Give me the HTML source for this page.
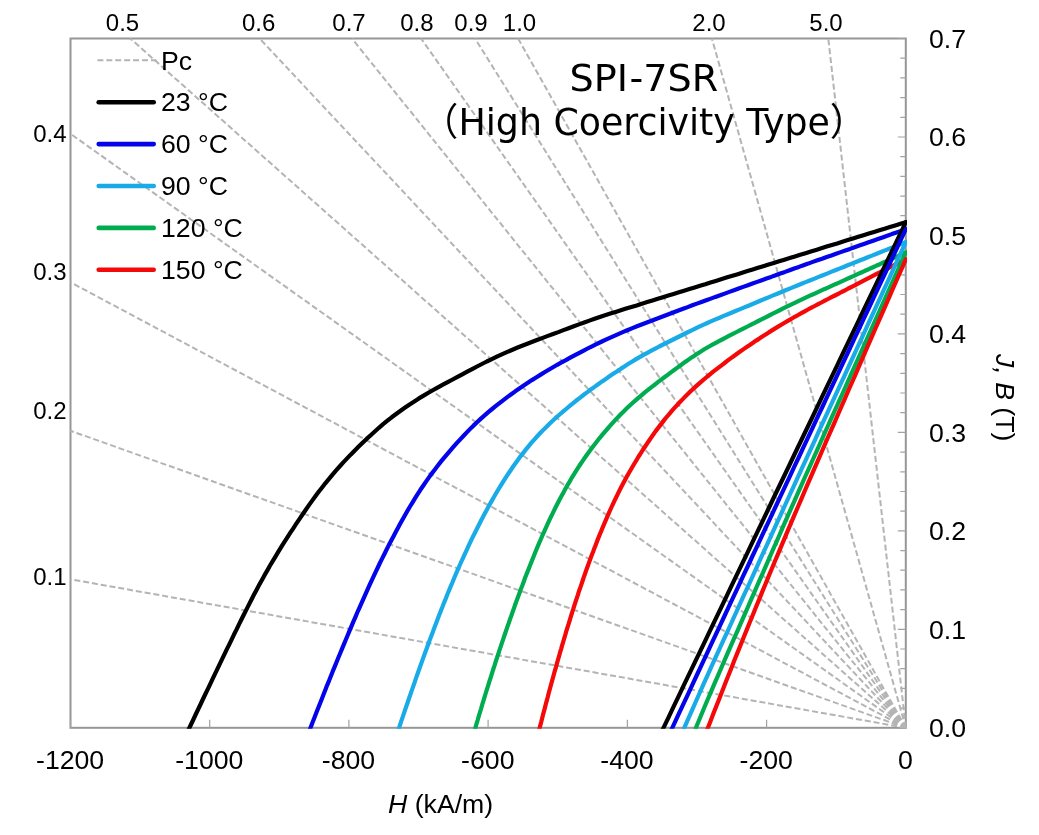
<!DOCTYPE html>
<html lang="en"><head><meta charset="utf-8"><title>SPI-7SR demagnetization curves</title>
<style>html,body{margin:0;padding:0;background:#fff}body{width:1039px;height:835px;overflow:hidden}svg{display:block}text{font-family:"Liberation Sans",sans-serif;fill:#000}.t{font-size:26.67px}.s{font-size:24px}.ttl{font-family:"DejaVu Sans","Liberation Sans","Noto Sans CJK JP",sans-serif;font-size:38px}</style></head><body>
<svg width="1039" height="835" viewBox="0 0 1039 835">
<rect width="1039" height="835" fill="#fff"/>
<defs><clipPath id="cp"><rect x="69.3" y="37.3" width="837.6999999999999" height="691.5"/></clipPath></defs>
<rect x="70.5" y="38.5" width="835.3" height="689.3" fill="none" stroke="#969696" stroke-width="2"/>
<path d="M905.8,727.8h-8 M905.8,708.1h-5.5 M905.8,688.4h-5.5 M905.8,668.7h-5.5 M905.8,649.0h-5.5 M905.8,629.3h-8 M905.8,609.6h-5.5 M905.8,589.9h-5.5 M905.8,570.2h-5.5 M905.8,550.6h-5.5 M905.8,530.9h-8 M905.8,511.2h-5.5 M905.8,491.5h-5.5 M905.8,471.8h-5.5 M905.8,452.1h-5.5 M905.8,432.4h-8 M905.8,412.7h-5.5 M905.8,393.0h-5.5 M905.8,373.3h-5.5 M905.8,353.6h-5.5 M905.8,333.9h-8 M905.8,314.2h-5.5 M905.8,294.5h-5.5 M905.8,274.8h-5.5 M905.8,255.1h-5.5 M905.8,235.4h-8 M905.8,215.7h-5.5 M905.8,196.1h-5.5 M905.8,176.4h-5.5 M905.8,156.7h-5.5 M905.8,137.0h-8 M905.8,117.3h-5.5 M905.8,97.6h-5.5 M905.8,77.9h-5.5 M905.8,58.2h-5.5 M905.8,38.5h-8 M70.5,727.8v-8 M209.7,727.8v-8 M348.9,727.8v-8 M488.1,727.8v-8 M627.4,727.8v-8 M766.6,727.8v-8 M905.8,727.8v-8" stroke="#a2a2a2" stroke-width="1.2" fill="none"/>
<g clip-path="url(#cp)" fill="none">
<path d="M905.8,727.8L70.5,579.3 M905.8,727.8L70.5,430.8 M905.8,727.8L70.5,282.3 M905.8,727.8L70.5,133.8 M905.8,727.8L130.3,38.5 M905.8,727.8L259.6,38.5 M905.8,727.8L351.9,38.5 M905.8,727.8L421.1,38.5 M905.8,727.8L475.0,38.5 M905.8,727.8L518.1,38.5 M905.8,727.8L711.9,38.5 M905.8,727.8L828.3,38.5" stroke="#b4b4b4" stroke-width="2" stroke-dasharray="6 2.92"/>
<path d="M186.5,734.0 L188.9,729.0 L191.2,724.0 L193.6,719.0 L195.9,714.0 L198.3,709.0 L200.7,704.0 L203.0,699.0 L205.4,694.0 L207.8,689.1 L210.2,684.1 L212.5,679.1 L214.9,674.1 L217.3,669.1 L219.7,664.2 L222.1,659.2 L224.5,654.2 L226.9,649.2 L229.3,644.3 L231.7,639.3 L234.1,634.3 L236.6,629.4 L239.0,624.4 L241.4,619.5 L243.9,614.5 L246.4,609.6 L248.9,604.6 L251.4,599.7 L253.9,594.8 L256.5,589.9 L259.1,585.1 L261.8,580.2 L264.4,575.4 L267.2,570.6 L269.9,565.8 L272.7,561.1 L275.6,556.3 L278.4,551.6 L281.3,546.9 L284.3,542.2 L287.2,537.6 L290.2,532.9 L293.3,528.3 L296.3,523.7 L299.4,519.1 L302.5,514.5 L305.6,510.0 L308.8,505.4 L312.0,500.9 L315.2,496.5 L318.5,492.1 L321.9,487.7 L325.3,483.3 L328.8,479.1 L332.3,474.8 L335.9,470.6 L339.6,466.5 L343.3,462.4 L347.1,458.4 L350.9,454.4 L354.8,450.5 L358.7,446.6 L362.6,442.7 L366.6,438.9 L370.7,435.2 L374.8,431.5 L378.9,427.8 L383.1,424.2 L387.4,420.7 L391.7,417.3 L396.1,414.0 L400.6,410.7 L405.1,407.5 L409.6,404.4 L414.3,401.4 L418.9,398.4 L423.6,395.6 L428.4,392.8 L433.2,390.0 L438.0,387.3 L442.9,384.7 L447.7,382.1 L452.6,379.5 L457.5,376.9 L462.3,374.3 L467.2,371.7 L472.1,369.1 L477.0,366.5 L481.9,364.0 L486.8,361.5 L491.8,359.1 L496.8,356.7 L501.8,354.4 L506.8,352.1 L511.9,350.0 L517.0,347.8 L522.1,345.8 L527.3,343.8 L532.4,341.8 L537.6,339.8 L542.7,337.9 L547.9,335.9 L553.1,334.0 L558.3,332.1 L563.4,330.1 L568.6,328.2 L573.8,326.3 L579.0,324.4 L584.2,322.5 L589.4,320.6 L594.6,318.8 L599.8,317.0 L605.0,315.3 L610.3,313.6 L615.6,311.9 L620.8,310.3 L626.1,308.6 L631.4,307.0 L636.7,305.4 L641.9,303.7 L647.2,302.1 L652.5,300.5 L657.8,298.8 L663.0,297.2 L668.3,295.6 L673.6,294.0 L678.9,292.3 L684.1,290.7 L689.4,289.1 L694.7,287.4 L700.0,285.8 L705.3,284.2 L710.5,282.5 L715.8,280.9 L721.1,279.3 L726.4,277.6 L731.6,276.0 L736.9,274.4 L742.2,272.7 L747.5,271.1 L752.7,269.5 L758.0,267.8 L763.3,266.2 L768.6,264.6 L773.8,263.0 L779.1,261.3 L784.4,259.7 L789.7,258.1 L794.9,256.4 L800.2,254.8 L805.5,253.2 L810.8,251.5 L816.1,249.9 L821.3,248.3 L826.6,246.6 L831.9,245.0 L837.2,243.4 L842.4,241.7 L847.7,240.1 L853.0,238.5 L858.3,236.8 L863.5,235.2 L868.8,233.6 L874.1,232.0 L879.4,230.3 L884.6,228.7 L889.9,227.1 L895.2,225.4 L900.5,223.8 L905.8,222.2" stroke="#000000" stroke-width="4.2" stroke-linejoin="round" stroke-linecap="round"/>
<path d="M307.5,735.6 L309.3,731.0 L311.0,726.4 L312.8,721.8 L314.6,717.2 L316.4,712.6 L318.2,708.0 L320.0,703.5 L321.8,698.9 L323.6,694.3 L325.4,689.7 L327.2,685.1 L329.1,680.6 L330.9,676.0 L332.7,671.4 L334.6,666.9 L336.5,662.3 L338.3,657.7 L340.2,653.2 L342.1,648.6 L344.0,644.1 L345.9,639.5 L347.8,635.0 L349.7,630.4 L351.6,625.9 L353.5,621.4 L355.5,616.8 L357.4,612.3 L359.4,607.8 L361.4,603.3 L363.4,598.8 L365.4,594.3 L367.4,589.8 L369.4,585.3 L371.5,580.8 L373.6,576.4 L375.7,571.9 L377.8,567.5 L379.9,563.0 L382.1,558.6 L384.3,554.2 L386.5,549.8 L388.7,545.4 L391.0,541.0 L393.3,536.7 L395.6,532.3 L397.9,528.0 L400.3,523.6 L402.7,519.3 L405.1,515.0 L407.5,510.8 L410.0,506.5 L412.6,502.3 L415.1,498.1 L417.8,493.9 L420.4,489.8 L423.2,485.7 L426.0,481.6 L428.8,477.6 L431.7,473.6 L434.7,469.7 L437.7,465.8 L440.7,461.9 L443.8,458.1 L447.0,454.3 L450.2,450.6 L453.4,446.9 L456.7,443.2 L460.0,439.6 L463.4,436.0 L466.8,432.4 L470.2,428.9 L473.7,425.4 L477.3,422.0 L480.9,418.6 L484.6,415.4 L488.3,412.1 L492.1,409.0 L495.9,405.9 L499.8,402.8 L503.7,399.8 L507.6,396.9 L511.6,394.0 L515.6,391.1 L519.7,388.3 L523.7,385.5 L527.8,382.8 L531.9,380.1 L536.1,377.5 L540.3,374.9 L544.5,372.3 L548.7,369.8 L553.0,367.3 L557.2,364.8 L561.5,362.4 L565.9,360.1 L570.2,357.7 L574.5,355.4 L578.9,353.1 L583.2,350.8 L587.6,348.5 L592.0,346.3 L596.4,344.1 L600.9,342.0 L605.3,339.9 L609.8,337.8 L614.3,335.8 L618.8,333.8 L623.3,331.9 L627.9,330.0 L632.4,328.1 L637.0,326.3 L641.6,324.5 L646.2,322.7 L650.8,321.0 L655.4,319.2 L660.0,317.5 L664.6,315.7 L669.2,314.0 L673.8,312.3 L678.4,310.5 L683.1,308.8 L687.7,307.1 L692.3,305.3 L696.9,303.6 L701.5,302.0 L706.2,300.3 L710.8,298.6 L715.4,296.9 L720.1,295.3 L724.7,293.6 L729.3,291.9 L734.0,290.2 L738.6,288.6 L743.2,286.9 L747.9,285.2 L752.5,283.6 L757.2,281.9 L761.8,280.2 L766.4,278.5 L771.1,276.9 L775.7,275.2 L780.3,273.5 L785.0,271.9 L789.6,270.2 L794.2,268.5 L798.9,266.9 L803.5,265.2 L808.2,263.6 L812.8,261.9 L817.4,260.3 L822.1,258.7 L826.7,257.0 L831.4,255.4 L836.0,253.8 L840.7,252.1 L845.3,250.5 L850.0,248.9 L854.6,247.2 L859.3,245.6 L863.9,244.0 L868.6,242.3 L873.2,240.7 L877.9,239.0 L882.5,237.4 L887.2,235.8 L891.8,234.1 L896.5,232.5 L901.1,230.9 L905.8,229.2" stroke="#0404ea" stroke-width="4.2" stroke-linejoin="round" stroke-linecap="round"/>
<path d="M396.0,737.1 L397.4,732.9 L398.8,728.6 L400.2,724.4 L401.6,720.2 L403.1,715.9 L404.5,711.7 L405.9,707.5 L407.4,703.2 L408.8,699.0 L410.3,694.8 L411.7,690.6 L413.2,686.4 L414.7,682.2 L416.1,677.9 L417.6,673.7 L419.1,669.5 L420.6,665.3 L422.1,661.1 L423.6,656.9 L425.1,652.7 L426.7,648.5 L428.2,644.3 L429.7,640.1 L431.3,635.9 L432.9,631.8 L434.4,627.6 L436.0,623.4 L437.6,619.2 L439.2,615.1 L440.8,610.9 L442.5,606.8 L444.1,602.6 L445.8,598.5 L447.4,594.3 L449.1,590.2 L450.8,586.1 L452.6,582.0 L454.3,577.8 L456.0,573.7 L457.8,569.6 L459.6,565.5 L461.4,561.5 L463.3,557.4 L465.1,553.3 L467.0,549.3 L468.9,545.2 L470.8,541.2 L472.7,537.2 L474.7,533.2 L476.7,529.2 L478.7,525.2 L480.7,521.2 L482.8,517.3 L484.9,513.3 L487.0,509.4 L489.1,505.5 L491.3,501.6 L493.5,497.7 L495.8,493.8 L498.0,490.0 L500.4,486.2 L502.7,482.4 L505.1,478.6 L507.5,474.9 L510.0,471.2 L512.5,467.5 L515.1,463.8 L517.7,460.2 L520.3,456.6 L523.1,453.1 L525.8,449.6 L528.7,446.1 L531.5,442.7 L534.5,439.3 L537.5,436.0 L540.5,432.8 L543.6,429.6 L546.8,426.4 L550.0,423.3 L553.2,420.3 L556.5,417.3 L559.9,414.3 L563.3,411.4 L566.7,408.5 L570.1,405.6 L573.5,402.8 L577.0,400.0 L580.5,397.3 L584.1,394.5 L587.7,391.9 L591.2,389.2 L594.9,386.6 L598.5,384.0 L602.1,381.4 L605.8,378.9 L609.5,376.3 L613.2,373.8 L616.9,371.4 L620.6,368.9 L624.4,366.5 L628.1,364.1 L631.9,361.7 L635.7,359.4 L639.6,357.1 L643.5,354.9 L647.4,352.8 L651.3,350.7 L655.3,348.6 L659.2,346.5 L663.2,344.5 L667.2,342.5 L671.2,340.5 L675.2,338.5 L679.2,336.5 L683.2,334.5 L687.2,332.5 L691.2,330.6 L695.2,328.6 L699.2,326.7 L703.2,324.8 L707.3,323.0 L711.4,321.2 L715.5,319.4 L719.6,317.7 L723.7,315.9 L727.9,314.2 L732.0,312.5 L736.1,310.8 L740.2,309.1 L744.3,307.4 L748.5,305.7 L752.6,304.0 L756.7,302.3 L760.8,300.5 L765.0,298.8 L769.1,297.1 L773.2,295.4 L777.3,293.7 L781.5,292.0 L785.6,290.3 L789.7,288.6 L793.9,286.9 L798.0,285.2 L802.1,283.5 L806.3,281.9 L810.4,280.2 L814.6,278.6 L818.7,276.9 L822.8,275.2 L827.0,273.6 L831.1,271.9 L835.3,270.3 L839.4,268.6 L843.6,267.0 L847.7,265.3 L851.9,263.6 L856.0,262.0 L860.2,260.3 L864.3,258.7 L868.4,257.0 L872.6,255.4 L876.7,253.7 L880.9,252.0 L885.0,250.4 L889.2,248.7 L893.3,247.1 L897.5,245.4 L901.6,243.8 L905.8,242.1" stroke="#18abe8" stroke-width="4.2" stroke-linejoin="round" stroke-linecap="round"/>
<path d="M473.0,735.9 L474.1,732.0 L475.3,728.1 L476.4,724.2 L477.6,720.3 L478.7,716.4 L479.9,712.5 L481.1,708.6 L482.2,704.7 L483.4,700.8 L484.6,696.9 L485.8,693.0 L487.0,689.1 L488.2,685.3 L489.4,681.4 L490.7,677.5 L491.9,673.6 L493.1,669.7 L494.4,665.9 L495.6,662.0 L496.9,658.1 L498.2,654.3 L499.4,650.4 L500.7,646.6 L502.0,642.7 L503.3,638.9 L504.6,635.0 L505.9,631.2 L507.2,627.3 L508.6,623.5 L509.9,619.6 L511.3,615.8 L512.6,612.0 L514.0,608.1 L515.3,604.3 L516.7,600.5 L518.1,596.7 L519.5,592.9 L520.9,589.0 L522.4,585.2 L523.8,581.4 L525.2,577.6 L526.7,573.8 L528.2,570.1 L529.7,566.3 L531.2,562.5 L532.7,558.7 L534.2,554.9 L535.7,551.2 L537.3,547.4 L538.9,543.7 L540.5,540.0 L542.1,536.2 L543.8,532.5 L545.4,528.8 L547.1,525.1 L548.8,521.4 L550.5,517.7 L552.3,514.1 L554.1,510.4 L555.9,506.8 L557.7,503.2 L559.6,499.6 L561.5,496.0 L563.5,492.4 L565.4,488.8 L567.4,485.3 L569.5,481.8 L571.5,478.3 L573.6,474.8 L575.8,471.3 L578.0,467.9 L580.2,464.5 L582.5,461.1 L584.8,457.8 L587.1,454.5 L589.5,451.2 L591.9,447.9 L594.4,444.7 L596.9,441.5 L599.4,438.3 L602.0,435.2 L604.6,432.1 L607.3,429.0 L610.0,425.9 L612.7,422.9 L615.4,419.9 L618.2,417.0 L621.0,414.0 L623.9,411.2 L626.8,408.3 L629.8,405.5 L632.8,402.8 L635.8,400.1 L638.9,397.4 L642.0,394.8 L645.1,392.2 L648.3,389.7 L651.5,387.1 L654.7,384.7 L657.9,382.2 L661.2,379.7 L664.4,377.3 L667.7,374.8 L670.9,372.4 L674.2,370.0 L677.4,367.6 L680.7,365.2 L684.0,362.8 L687.3,360.5 L690.7,358.1 L694.1,355.9 L697.5,353.6 L700.9,351.5 L704.3,349.3 L707.8,347.3 L711.4,345.2 L714.9,343.3 L718.5,341.3 L722.1,339.5 L725.7,337.6 L729.3,335.7 L732.9,333.9 L736.6,332.0 L740.2,330.2 L743.8,328.4 L747.5,326.5 L751.1,324.7 L754.7,322.8 L758.3,321.0 L762.0,319.2 L765.6,317.3 L769.2,315.5 L772.8,313.7 L776.5,311.8 L780.1,310.0 L783.7,308.2 L787.4,306.4 L791.0,304.6 L794.7,302.8 L798.3,301.1 L802.0,299.3 L805.7,297.6 L809.4,295.9 L813.1,294.3 L816.8,292.6 L820.5,290.9 L824.2,289.2 L827.9,287.6 L831.6,285.9 L835.3,284.2 L839.1,282.6 L842.8,280.9 L846.5,279.2 L850.2,277.5 L853.9,275.9 L857.6,274.2 L861.3,272.5 L865.0,270.8 L868.7,269.2 L872.4,267.5 L876.1,265.8 L879.8,264.2 L883.5,262.5 L887.2,260.8 L890.9,259.1 L894.6,257.5 L898.3,255.8 L902.0,254.1 L905.8,252.5" stroke="#00ac50" stroke-width="4.2" stroke-linejoin="round" stroke-linecap="round"/>
<path d="M536.5,740.5 L537.4,736.8 L538.3,733.1 L539.3,729.4 L540.2,725.8 L541.2,722.1 L542.1,718.4 L543.0,714.8 L544.0,711.1 L545.0,707.4 L545.9,703.8 L546.9,700.1 L547.9,696.5 L548.8,692.8 L549.8,689.2 L550.8,685.5 L551.8,681.9 L552.8,678.2 L553.8,674.6 L554.8,670.9 L555.9,667.3 L556.9,663.6 L557.9,660.0 L559.0,656.3 L560.0,652.7 L561.1,649.1 L562.1,645.4 L563.2,641.8 L564.3,638.2 L565.4,634.5 L566.4,630.9 L567.5,627.3 L568.7,623.7 L569.8,620.1 L570.9,616.4 L572.0,612.8 L573.2,609.2 L574.3,605.6 L575.5,602.0 L576.7,598.4 L577.9,594.8 L579.0,591.2 L580.3,587.6 L581.5,584.1 L582.7,580.5 L583.9,576.9 L585.2,573.3 L586.4,569.8 L587.7,566.2 L589.0,562.6 L590.3,559.1 L591.6,555.5 L593.0,552.0 L594.3,548.5 L595.7,544.9 L597.0,541.4 L598.4,537.9 L599.8,534.4 L601.3,530.9 L602.7,527.4 L604.2,523.9 L605.7,520.4 L607.2,516.9 L608.7,513.4 L610.2,510.0 L611.8,506.5 L613.4,503.1 L615.0,499.7 L616.7,496.3 L618.3,492.9 L620.0,489.5 L621.8,486.1 L623.5,482.8 L625.3,479.4 L627.1,476.1 L629.0,472.8 L630.9,469.5 L632.8,466.3 L634.7,463.0 L636.7,459.8 L638.6,456.5 L640.7,453.3 L642.7,450.2 L644.8,447.0 L646.9,443.8 L649.0,440.7 L651.1,437.6 L653.3,434.5 L655.5,431.4 L657.8,428.4 L660.1,425.4 L662.4,422.4 L664.7,419.4 L667.1,416.5 L669.6,413.6 L672.0,410.7 L674.5,407.9 L677.1,405.1 L679.7,402.3 L682.3,399.6 L684.9,396.9 L687.6,394.2 L690.3,391.6 L693.1,389.0 L695.9,386.4 L698.7,383.9 L701.6,381.4 L704.4,379.0 L707.3,376.5 L710.3,374.1 L713.2,371.7 L716.2,369.4 L719.2,367.1 L722.2,364.8 L725.2,362.5 L728.2,360.2 L731.3,357.9 L734.3,355.7 L737.4,353.5 L740.5,351.3 L743.6,349.1 L746.7,347.0 L749.8,344.9 L753.0,342.7 L756.1,340.6 L759.3,338.6 L762.4,336.5 L765.6,334.5 L768.8,332.4 L772.0,330.4 L775.2,328.4 L778.5,326.4 L781.7,324.5 L785.0,322.5 L788.2,320.6 L791.5,318.7 L794.8,316.8 L798.1,315.0 L801.4,313.1 L804.7,311.3 L808.0,309.5 L811.4,307.7 L814.7,306.0 L818.1,304.2 L821.4,302.5 L824.8,300.7 L828.1,299.0 L831.5,297.2 L834.9,295.5 L838.2,293.8 L841.6,292.0 L845.0,290.3 L848.3,288.5 L851.7,286.8 L855.1,285.1 L858.4,283.3 L861.8,281.6 L865.1,279.9 L868.5,278.1 L871.9,276.4 L875.2,274.7 L878.6,273.0 L882.0,271.2 L885.4,269.5 L888.8,267.8 L892.1,266.2 L895.5,264.5 L898.9,262.8 L902.3,261.2 L905.8,259.5" stroke="#f40808" stroke-width="4.2" stroke-linejoin="round" stroke-linecap="round"/>
<path d="M657.8,739.8 L663.0,728.8 L668.3,717.8 L673.6,706.7 L678.9,695.7 L684.1,684.7 L689.4,673.7 L694.7,662.7 L700.0,651.7 L705.3,640.7 L710.5,629.7 L715.8,618.7 L721.1,607.6 L726.4,596.6 L731.6,585.6 L736.9,574.6 L742.2,563.6 L747.5,552.6 L752.7,541.6 L758.0,530.6 L763.3,519.6 L768.6,508.5 L773.8,497.5 L779.1,486.5 L784.4,475.5 L789.7,464.5 L794.9,453.5 L800.2,442.5 L805.5,431.5 L810.8,420.5 L816.1,409.4 L821.3,398.4 L826.6,387.4 L831.9,376.4 L837.2,365.4 L842.4,354.4 L847.7,343.4 L853.0,332.4 L858.3,321.4 L863.5,310.3 L868.8,299.3 L874.1,288.3 L879.4,277.3 L884.6,266.3 L889.9,255.3 L895.2,244.3 L900.5,233.3 L905.8,222.2" stroke="#000000" stroke-width="4.2" stroke-linejoin="round" stroke-linecap="round"/>
<path d="M669.2,734.5 L673.8,724.6 L678.4,714.7 L683.1,704.7 L687.7,694.8 L692.3,684.9 L696.9,675.0 L701.5,665.1 L706.2,655.1 L710.8,645.2 L715.4,635.3 L720.1,625.4 L724.7,615.5 L729.3,605.6 L734.0,595.7 L738.6,585.8 L743.2,575.9 L747.9,566.0 L752.5,556.0 L757.2,546.1 L761.8,536.2 L766.4,526.3 L771.1,516.4 L775.7,506.5 L780.3,496.6 L785.0,486.7 L789.6,476.8 L794.2,466.9 L798.9,457.0 L803.5,447.1 L808.2,437.2 L812.8,427.3 L817.4,417.4 L822.1,407.5 L826.7,397.6 L831.4,387.7 L836.0,377.8 L840.7,367.9 L845.3,358.0 L850.0,348.1 L854.6,338.2 L859.3,328.3 L863.9,318.4 L868.6,308.5 L873.2,298.6 L877.9,288.7 L882.5,278.8 L887.2,268.9 L891.8,259.0 L896.5,249.1 L901.1,239.2 L905.8,229.2" stroke="#0404ea" stroke-width="4.2" stroke-linejoin="round" stroke-linecap="round"/>
<path d="M679.2,739.4 L683.2,730.3 L687.2,721.2 L691.2,712.1 L695.2,703.0 L699.2,694.0 L703.2,684.9 L707.3,675.8 L711.4,666.7 L715.5,657.7 L719.6,648.6 L723.7,639.6 L727.9,630.6 L732.0,621.5 L736.1,612.5 L740.2,603.4 L744.3,594.4 L748.5,585.4 L752.6,576.3 L756.7,567.3 L760.8,558.2 L765.0,549.2 L769.1,540.2 L773.2,531.1 L777.3,522.1 L781.5,513.0 L785.6,504.0 L789.7,495.0 L793.9,485.9 L798.0,476.9 L802.1,467.9 L806.3,458.8 L810.4,449.8 L814.6,440.8 L818.7,431.7 L822.8,422.7 L827.0,413.7 L831.1,404.7 L835.3,395.6 L839.4,386.6 L843.6,377.6 L847.7,368.6 L851.9,359.5 L856.0,350.5 L860.2,341.5 L864.3,332.5 L868.4,323.4 L872.6,314.4 L876.7,305.4 L880.9,296.3 L885.0,287.3 L889.2,278.3 L893.3,269.3 L897.5,260.2 L901.6,251.2 L905.8,242.1" stroke="#18abe8" stroke-width="4.2" stroke-linejoin="round" stroke-linecap="round"/>
<path d="M694.1,732.3 L697.5,724.0 L700.9,715.7 L704.3,707.5 L707.8,699.2 L711.4,690.9 L714.9,682.6 L718.5,674.3 L722.1,666.0 L725.7,657.7 L729.3,649.4 L732.9,641.2 L736.6,632.9 L740.2,624.6 L743.8,616.3 L747.5,608.0 L751.1,599.7 L754.7,591.5 L758.3,583.2 L762.0,574.9 L765.6,566.6 L769.2,558.3 L772.8,550.0 L776.5,541.8 L780.1,533.5 L783.7,525.2 L787.4,516.9 L791.0,508.6 L794.7,500.4 L798.3,492.1 L802.0,483.8 L805.7,475.5 L809.4,467.3 L813.1,459.0 L816.8,450.8 L820.5,442.5 L824.2,434.2 L827.9,426.0 L831.6,417.7 L835.3,409.5 L839.1,401.2 L842.8,393.0 L846.5,384.7 L850.2,376.4 L853.9,368.2 L857.6,359.9 L861.3,351.7 L865.0,343.4 L868.7,335.1 L872.4,326.9 L876.1,318.6 L879.8,310.4 L883.5,302.1 L887.2,293.8 L890.9,285.6 L894.6,277.3 L898.3,269.1 L902.0,260.8 L905.8,252.5" stroke="#00ac50" stroke-width="4.2" stroke-linejoin="round" stroke-linecap="round"/>
<path d="M704.4,736.9 L707.3,729.3 L710.3,721.7 L713.2,714.1 L716.2,706.5 L719.2,698.9 L722.2,691.2 L725.2,683.6 L728.2,675.9 L731.3,668.2 L734.3,660.6 L737.4,652.9 L740.5,645.2 L743.6,637.5 L746.7,629.9 L749.8,622.2 L753.0,614.5 L756.1,606.8 L759.3,599.1 L762.4,591.4 L765.6,583.7 L768.8,575.9 L772.0,568.2 L775.2,560.5 L778.5,552.8 L781.7,545.1 L785.0,537.4 L788.2,529.6 L791.5,521.9 L794.8,514.2 L798.1,506.5 L801.4,498.8 L804.7,491.0 L808.0,483.3 L811.4,475.6 L814.7,467.9 L818.1,460.2 L821.4,452.5 L824.8,444.7 L828.1,437.0 L831.5,429.3 L834.9,421.6 L838.2,413.9 L841.6,406.2 L845.0,398.4 L848.3,390.7 L851.7,383.0 L855.1,375.3 L858.4,367.6 L861.8,359.9 L865.1,352.1 L868.5,344.4 L871.9,336.7 L875.2,329.0 L878.6,321.3 L882.0,313.6 L885.4,305.9 L888.8,298.1 L892.1,290.4 L895.5,282.7 L898.9,275.0 L902.3,267.3 L905.8,259.5" stroke="#f40808" stroke-width="4.2" stroke-linejoin="round" stroke-linecap="round"/>
</g>
<path d="M97.4,60.3H156.4" stroke="#b4b4b4" stroke-width="2" stroke-dasharray="6 2.92" fill="none"/>
<text class="t" x="161.0" y="69.6">Pc</text>
<path d="M98.7,102.2H153.7" stroke="#000000" stroke-width="4.6" stroke-linecap="round" fill="none"/>
<text class="t" x="161.0" y="111.4">23 °C</text>
<path d="M98.7,144.1H153.7" stroke="#0404ea" stroke-width="4.6" stroke-linecap="round" fill="none"/>
<text class="t" x="161.0" y="153.2">60 °C</text>
<path d="M98.7,186.0H153.7" stroke="#18abe8" stroke-width="4.6" stroke-linecap="round" fill="none"/>
<text class="t" x="161.0" y="195.0">90 °C</text>
<path d="M98.7,227.9H153.7" stroke="#00ac50" stroke-width="4.6" stroke-linecap="round" fill="none"/>
<text class="t" x="161.0" y="236.8">120 °C</text>
<path d="M98.7,269.8H153.7" stroke="#f40808" stroke-width="4.6" stroke-linecap="round" fill="none"/>
<text class="t" x="161.0" y="278.6">150 °C</text>
<text class="ttl" text-anchor="middle" transform="translate(643.8,90.8) scale(1.004,1)">SPI<tspan dx="1.5">-7SR</tspan></text>
<text class="ttl" text-anchor="middle" transform="translate(644.1,135) scale(0.956,1)">（High Coercivity Type）</text>
<text class="t" x="929" y="737.2">0.0</text>
<text class="t" x="929" y="638.7">0.1</text>
<text class="t" x="929" y="540.3">0.2</text>
<text class="t" x="929" y="441.8">0.3</text>
<text class="t" x="929" y="343.3">0.4</text>
<text class="t" x="929" y="244.8">0.5</text>
<text class="t" x="929" y="146.4">0.6</text>
<text class="t" x="929" y="47.9">0.7</text>
<text class="t" text-anchor="middle" x="70.1" y="769.3">-1200</text>
<text class="t" text-anchor="middle" x="209.3" y="769.3">-1000</text>
<text class="t" text-anchor="middle" x="348.5" y="769.3">-800</text>
<text class="t" text-anchor="middle" x="487.8" y="769.3">-600</text>
<text class="t" text-anchor="middle" x="627.0" y="769.3">-400</text>
<text class="t" text-anchor="middle" x="766.2" y="769.3">-200</text>
<text class="t" text-anchor="middle" x="905.4" y="769.3">0</text>
<text class="t" x="388" y="813.3"><tspan font-style="italic">H</tspan> (kA/m)</text>
<text class="t" transform="translate(995.5,354) rotate(90)"><tspan font-style="italic">J, B</tspan> (T)</text>
<text class="s" text-anchor="middle" x="122.5" y="30.7">0.5</text>
<text class="s" text-anchor="middle" x="258.7" y="30.7">0.6</text>
<text class="s" text-anchor="middle" x="349" y="30.7">0.7</text>
<text class="s" text-anchor="middle" x="416.9" y="30.7">0.8</text>
<text class="s" text-anchor="middle" x="471" y="30.7">0.9</text>
<text class="s" text-anchor="middle" x="519.5" y="30.7">1.0</text>
<text class="s" text-anchor="middle" x="709" y="30.7">2.0</text>
<text class="s" text-anchor="middle" x="826" y="30.7">5.0</text>
<text class="s" text-anchor="end" x="66.5" y="141.5">0.4</text>
<text class="s" text-anchor="end" x="66.5" y="280">0.3</text>
<text class="s" text-anchor="end" x="66.5" y="419">0.2</text>
<text class="s" text-anchor="end" x="66.5" y="585">0.1</text>
</svg></body></html>
